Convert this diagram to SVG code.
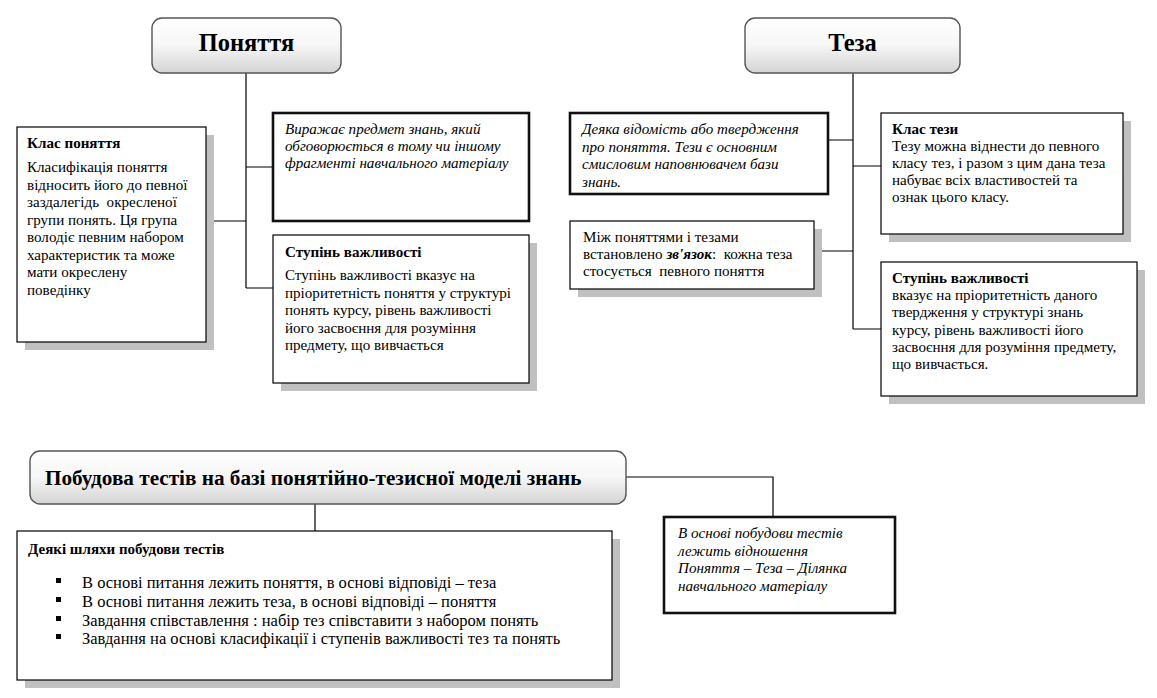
<svg xmlns="http://www.w3.org/2000/svg" width="1157" height="698" viewBox="0 0 1157 698">
<style>
text{font-family:'Liberation Serif','Tinos','Times New Roman','DejaVu Serif',serif;fill:#000;white-space:pre}
.t{font-size:15.1px}
.b{font-weight:bold}
.i{font-style:italic}
.h{font-size:24.5px;font-weight:bold;text-anchor:middle}
.li{font-size:16.5px}
.box{fill:#fff;stroke:#000;stroke-width:1.2}
.thick{fill:#fff;stroke:#111;stroke-width:2.6}
.sh{fill:#c0c0c0}
.title{fill:url(#g);stroke:#555;stroke-width:1.4}
.ln{fill:none;stroke:#000;stroke-width:1.2}
</style>
<defs>
<linearGradient id="g" x1="0" y1="0" x2="0" y2="1">
<stop offset="0" stop-color="#ffffff"/>
<stop offset="0.5" stop-color="#f6f6f6"/>
<stop offset="1" stop-color="#d4d4d4"/>
</linearGradient>
</defs>
<rect width="1157" height="698" fill="#fff"/>
<g id="connectors">
<path class="ln" d="M246 73V288M246 167H273M206 221H246M246 288H273"/>
<path class="ln" d="M853 73V329M828 140H853M853 166H881M814 251H853M853 329H881"/>
<path class="ln" d="M315 504V531M626 477H773V517"/>
</g>
<g id="ponyattya">
<rect class="title" x="152" y="18" width="189" height="55" rx="10"/>
<text class="h" x="246.5" y="51">Поняття</text>
</g>
<g id="teza">
<rect class="title" x="745" y="18" width="215" height="55" rx="10"/>
<text class="h" x="852.5" y="51">Теза</text>
</g>
<g id="klas-ponyattya">
<rect class="sh" x="25" y="135" width="189" height="215"/>
<rect class="box" x="17" y="127" width="189" height="215"/>
<text class="t b" x="27" y="148">Клас поняття</text>
<text class="t" x="27" y="172">Класифікація поняття</text>
<text class="t" x="27" y="189.5">відносить його до певної</text>
<text class="t" x="27" y="207">заздалегідь  окресленої</text>
<text class="t" x="27" y="224.5">групи понять. Ця група</text>
<text class="t" x="27" y="242">володіє певним набором</text>
<text class="t" x="27" y="259.5">характеристик та може</text>
<text class="t" x="27" y="277">мати окреслену</text>
<text class="t" x="27" y="294.5">поведінку</text>
</g>
<g id="vyrazhaye">
<rect class="thick" x="273" y="113" width="256" height="108"/>
<text class="t i" x="285" y="134">Виражає предмет знань, який</text>
<text class="t i" x="285" y="151">обговорюється в тому чи іншому</text>
<text class="t i" x="285" y="168">фрагменті навчального матеріалу</text>
</g>
<g id="stupin-ponyattya">
<rect class="sh" x="281" y="243" width="256" height="148"/>
<rect class="box" x="273" y="235" width="256" height="148"/>
<text class="t b" x="285" y="257">Ступінь важливості</text>
<text class="t" x="285" y="280">Ступінь важливості вказує на</text>
<text class="t" x="285" y="297.5">пріоритетність поняття у структурі</text>
<text class="t" x="285" y="315">понять курсу, рівень важливості</text>
<text class="t" x="285" y="332.5">його засвоєння для розуміння</text>
<text class="t" x="285" y="350">предмету, що вивчається</text>
</g>
<g id="deyaka">
<rect class="thick" x="570" y="113" width="258" height="81"/>
<text class="t i" x="582" y="134">Деяка відомість або твердження</text>
<text class="t i" x="582" y="151.5">про поняття. Тези є основним</text>
<text class="t i" x="582" y="169">смисловим наповнювачем бази</text>
<text class="t i" x="582" y="186.5">знань.</text>
</g>
<g id="mizh">
<rect class="sh" x="578" y="229" width="244" height="68"/>
<rect class="box" x="570" y="221" width="244" height="68"/>
<text class="t" x="583" y="242">Між поняттями і тезами</text>
<text class="t" x="583" y="259">встановлено <tspan class="b i">зв'язок</tspan>:  кожна теза</text>
<text class="t" x="583" y="276">стосується  певного поняття</text>
</g>
<g id="klas-tezy">
<rect class="sh" x="889" y="121" width="242" height="121"/>
<rect class="box" x="881" y="113" width="242" height="121"/>
<text class="t b" x="892" y="134">Клас тези</text>
<text class="t" x="892" y="151">Тезу можна віднести до певного</text>
<text class="t" x="892" y="168">класу тез, і разом з цим дана теза</text>
<text class="t" x="892" y="185">набуває всіх властивостей та</text>
<text class="t" x="892" y="202">ознак цього класу.</text>
</g>
<g id="stupin-tezy">
<rect class="sh" x="889" y="270" width="256" height="134"/>
<rect class="box" x="881" y="262" width="256" height="134"/>
<text class="t b" x="892" y="283">Ступінь важливості</text>
<text class="t" x="892" y="300">вказує на пріоритетність даного</text>
<text class="t" x="892" y="317">твердження у структурі знань</text>
<text class="t" x="892" y="334.5">курсу, рівень важливості його</text>
<text class="t" x="892" y="351.5">засвоєння для розуміння предмету,</text>
<text class="t" x="892" y="368.5">що вивчається.</text>
</g>
<g id="pobudova">
<rect class="title" x="30" y="451" width="596" height="53" rx="10"/>
<text class="b" x="45" y="485" font-size="21.2">Побудова тестів на базі понятійно-тезисної моделі знань</text>
</g>
<g id="shlyakhy">
<rect class="sh" x="25" y="539" width="595" height="149"/>
<rect class="box" x="17" y="531" width="595" height="149"/>
<text class="b" x="28" y="554" font-size="15">Деякі шляхи побудови тестів</text>
<rect x="56" y="578" width="5" height="5"/>
<rect x="56" y="597" width="5" height="5"/>
<rect x="56" y="616" width="5" height="5"/>
<rect x="56" y="634" width="5" height="5"/>
<text class="li" x="82" y="588">В основі питання лежить поняття, в основі відповіді – теза</text>
<text class="li" x="82" y="607">В основі питання лежить теза, в основі відповіді – поняття</text>
<text class="li" x="82" y="626">Завдання співставлення : набір тез співставити з набором понять</text>
<text class="li" x="82" y="644">Завдання на основі класифікації і ступенів важливості тез та понять</text>
</g>
<g id="v-osnovi">
<rect class="thick" x="664" y="517" width="231" height="96"/>
<text class="t i" x="678" y="538">В основі побудови тестів</text>
<text class="t i" x="678" y="555.5">лежить відношення</text>
<text class="t i" x="678" y="573">Поняття – Теза – Ділянка</text>
<text class="t i" x="678" y="590.5">навчального матеріалу</text>
</g>
</svg>
